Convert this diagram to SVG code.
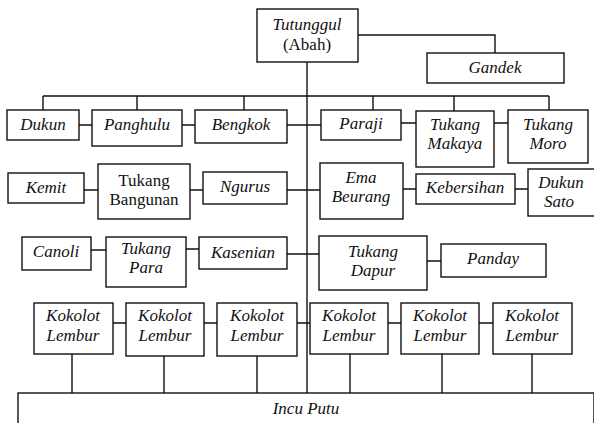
<svg xmlns="http://www.w3.org/2000/svg" width="594" height="423" viewBox="0 0 594 423">
<style>
rect{fill:#fff;stroke:#111;stroke-width:1.4}
text{font-family:"Liberation Serif","Times New Roman",serif;font-size:17px;font-style:italic;fill:#111;text-anchor:middle}
text.n{font-style:normal}
#connectors path{fill:none;stroke:#111;stroke-width:1.4}
</style>
<rect x="0" y="0" width="594" height="423" style="fill:#fff;stroke:none"/>
<g id="connectors">
<path d="M358,35 H495 V53"/>
<path d="M307,62 V393"/>
<path d="M43,96 H549 M43,96 V110 M137,96 V110 M244,96 V110 M373,96 V110 M454,96 V111 M549,96 V110"/>
<path d="M79,125 H92 M182,125 H195 M287,125 H321 M401,123 H416 M494,123 H508"/>
<path d="M84,190 H98 M190,190 H203 M287,190 H320 M403,189 H416 M515,189 H528"/>
<path d="M91,250 H106 M186,249 H199 M287,254 H319 M427,261 H441"/>
<path d="M113,323 H126 M204,323 H217 M297,323 H310 M388,323 H401 M479,323 H493"/>
<path d="M72,354 V393 M164,356 V393 M257,356 V393 M350,354 V393 M442,354 V393 M532,354 V393"/>
</g>
<g id="tutunggul"><rect x="257" y="9" width="101" height="53"/><text x="307" y="30">Tutunggul</text><text class="n" x="307" y="50">(Abah)</text></g>
<g id="gandek"><rect x="427" y="53" width="137" height="30"/><text x="495" y="73">Gandek</text></g>
<g id="dukun"><rect x="7" y="110" width="72" height="30"/><text x="43" y="130">Dukun</text></g>
<g id="panghulu"><rect x="92" y="110" width="90" height="36"/><text x="137" y="130">Panghulu</text></g>
<g id="bengkok"><rect x="195" y="110" width="92" height="33"/><text x="241" y="130">Bengkok</text></g>
<g id="paraji"><rect x="321" y="110" width="80" height="30"/><text x="361" y="129">Paraji</text></g>
<g id="tukang-makaya"><rect x="416" y="111" width="78" height="56"/><text x="455" y="130">Tukang</text><text x="455" y="149">Makaya</text></g>
<g id="tukang-moro"><rect x="508" y="110" width="80" height="53"/><text x="548" y="130">Tukang</text><text x="548" y="149">Moro</text></g>
<g id="kemit"><rect x="8" y="173" width="76" height="30"/><text x="46" y="193">Kemit</text></g>
<g id="tukang-bangunan"><rect x="98" y="164" width="92" height="55"/><text class="n" x="144" y="186">Tukang</text><text class="n" x="144" y="205">Bangunan</text></g>
<g id="ngurus"><rect x="203" y="172" width="84" height="32"/><text x="245" y="192">Ngurus</text></g>
<g id="ema-beurang"><rect x="320" y="163" width="83" height="56"/><text x="361" y="183">Ema</text><text x="361" y="202">Beurang</text></g>
<g id="kebersihan"><rect x="416" y="174" width="99" height="30"/><text x="465" y="193">Kebersihan</text></g>
<g id="dukun-sato"><rect x="528" y="169" width="70" height="47"/><text x="561" y="188">Dukun</text><text x="559" y="207">Sato</text></g>
<g id="canoli"><rect x="22" y="237" width="69" height="33"/><text x="56" y="257">Canoli</text></g>
<g id="tukang-para"><rect x="106" y="237" width="80" height="50"/><text x="146" y="254">Tukang</text><text x="146" y="273">Para</text></g>
<g id="kasenian"><rect x="199" y="237" width="88" height="32"/><text x="243" y="258">Kasenian</text></g>
<g id="tukang-dapur"><rect x="319" y="236" width="108" height="54"/><text x="373" y="257">Tukang</text><text x="373" y="276">Dapur</text></g>
<g id="panday"><rect x="441" y="244" width="105" height="33"/><text x="493" y="264">Panday</text></g>
<g id="kokolot-lembur-1"><rect x="34" y="303" width="79" height="51"/><text x="73" y="321">Kokolot</text><text x="73" y="341">Lembur</text></g>
<g id="kokolot-lembur-2"><rect x="126" y="303" width="78" height="53"/><text x="165" y="321">Kokolot</text><text x="165" y="341">Lembur</text></g>
<g id="kokolot-lembur-3"><rect x="217" y="303" width="80" height="53"/><text x="257" y="321">Kokolot</text><text x="257" y="341">Lembur</text></g>
<g id="kokolot-lembur-4"><rect x="310" y="303" width="78" height="51"/><text x="349" y="321">Kokolot</text><text x="349" y="341">Lembur</text></g>
<g id="kokolot-lembur-5"><rect x="401" y="303" width="78" height="51"/><text x="440" y="321">Kokolot</text><text x="440" y="341">Lembur</text></g>
<g id="kokolot-lembur-6"><rect x="493" y="303" width="79" height="51"/><text x="532" y="321">Kokolot</text><text x="532" y="341">Lembur</text></g>
<g id="incu-putu"><rect x="18" y="393" width="576" height="40"/><text x="306" y="414">Incu Putu</text></g>
</svg>
